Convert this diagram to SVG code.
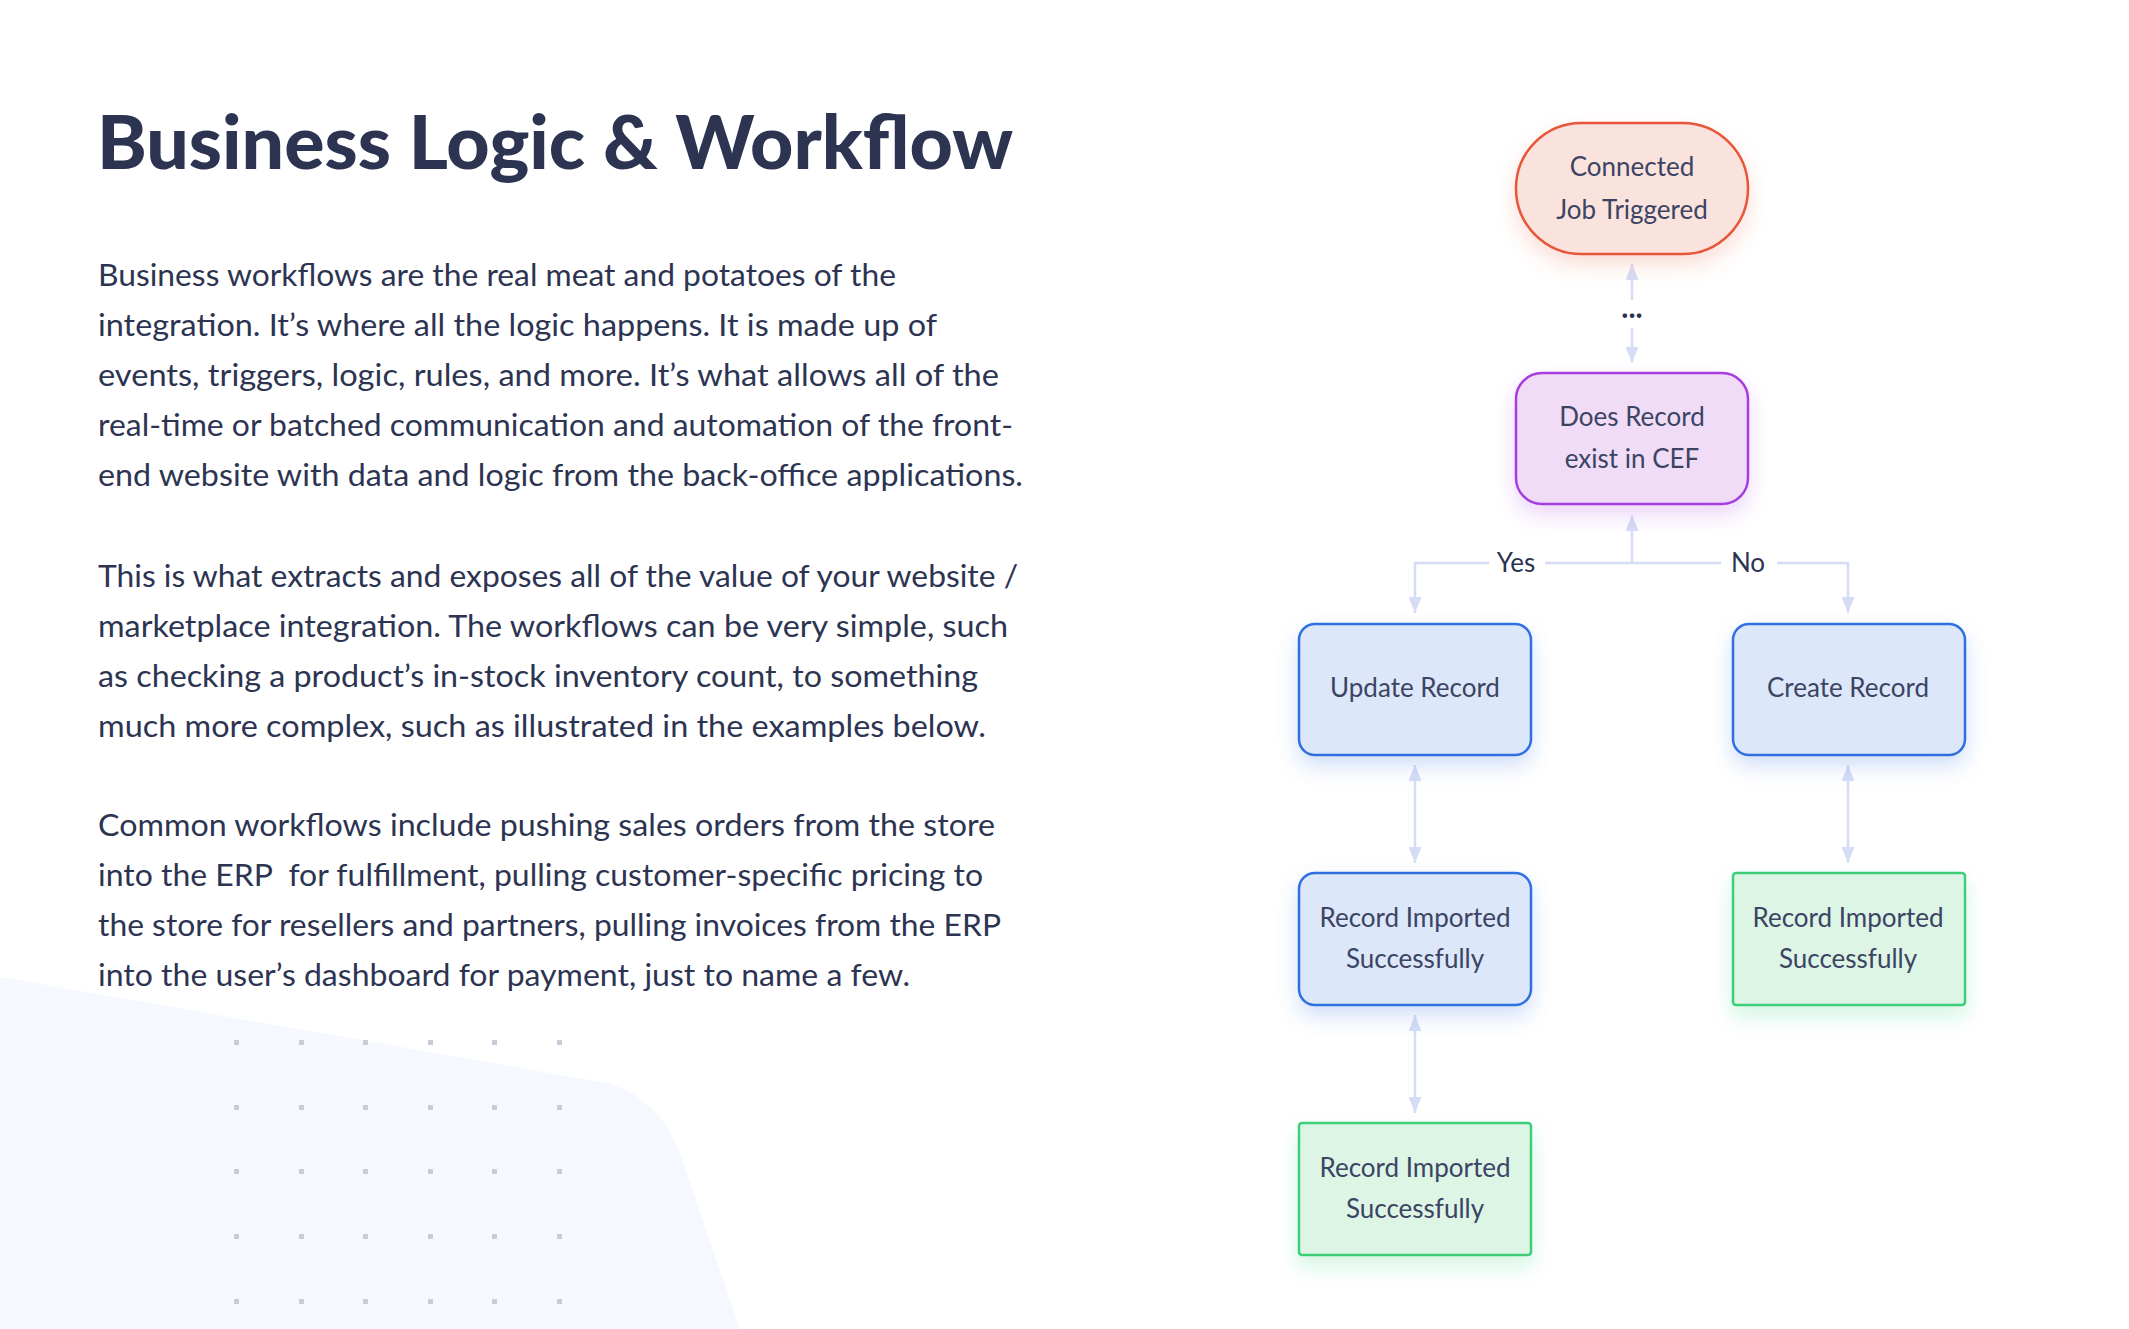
<svg xmlns="http://www.w3.org/2000/svg" width="2129" height="1329" viewBox="0 0 2129 1329">
<defs>
<style>
.title{font-family:Lato,"Liberation Sans",sans-serif;font-weight:900;font-size:75px;fill:#2c3452}
.body{font-family:Lato,"Liberation Sans",sans-serif;font-size:30px;fill:#2c3452}
.nt{font-family:Lato,"Liberation Sans",sans-serif;font-size:26px;fill:#3c4463;text-anchor:middle}
.lbl{font-family:Lato,"Liberation Sans",sans-serif;font-size:26px;fill:#2c3452;text-anchor:middle}
.dots3{font-family:Lato,"Liberation Sans",sans-serif;font-size:30px;font-weight:700;fill:#2c3452;text-anchor:middle}
.conn{stroke:#d5ddf6;stroke-width:2.5;fill:none}
.dot{fill:#c9ccd8}
</style>
<marker id="ah" viewBox="0 0 16 13" refX="16" refY="6.5" markerWidth="16" markerHeight="13" markerUnits="userSpaceOnUse" orient="auto-start-reverse">
<path d="M0,0 L16,6.5 L0,13 Z" fill="#d5ddf6"/>
</marker>
<filter id="shR" x="-30%" y="-30%" width="160%" height="170%"><feDropShadow dx="0" dy="10" stdDeviation="10" flood-color="#e8553a" flood-opacity="0.2"/></filter>
<filter id="shP" x="-30%" y="-30%" width="160%" height="170%"><feDropShadow dx="0" dy="10" stdDeviation="10" flood-color="#a63ce0" flood-opacity="0.2"/></filter>
<filter id="shB" x="-30%" y="-30%" width="160%" height="170%"><feDropShadow dx="0" dy="10" stdDeviation="10" flood-color="#2f6fe0" flood-opacity="0.22"/></filter>
<filter id="shG" x="-30%" y="-30%" width="160%" height="170%"><feDropShadow dx="0" dy="10" stdDeviation="10" flood-color="#2ecc71" flood-opacity="0.2"/></filter>
</defs>
<rect width="2129" height="1329" fill="#ffffff"/>
<path d="M0,977 L607,1083 C645,1094 672,1122 684,1165 L740,1329 L0,1329 Z" fill="#f5f8fe"/>
<g id="dots">
<rect class="dot" x="234" y="1040" width="5" height="5"/><rect class="dot" x="299" y="1040" width="5" height="5"/><rect class="dot" x="363" y="1040" width="5" height="5"/><rect class="dot" x="428" y="1040" width="5" height="5"/><rect class="dot" x="492" y="1040" width="5" height="5"/><rect class="dot" x="557" y="1040" width="5" height="5"/>
<rect class="dot" x="234" y="1105" width="5" height="5"/><rect class="dot" x="299" y="1105" width="5" height="5"/><rect class="dot" x="363" y="1105" width="5" height="5"/><rect class="dot" x="428" y="1105" width="5" height="5"/><rect class="dot" x="492" y="1105" width="5" height="5"/><rect class="dot" x="557" y="1105" width="5" height="5"/>
<rect class="dot" x="234" y="1169" width="5" height="5"/><rect class="dot" x="299" y="1169" width="5" height="5"/><rect class="dot" x="363" y="1169" width="5" height="5"/><rect class="dot" x="428" y="1169" width="5" height="5"/><rect class="dot" x="492" y="1169" width="5" height="5"/><rect class="dot" x="557" y="1169" width="5" height="5"/>
<rect class="dot" x="234" y="1234" width="5" height="5"/><rect class="dot" x="299" y="1234" width="5" height="5"/><rect class="dot" x="363" y="1234" width="5" height="5"/><rect class="dot" x="428" y="1234" width="5" height="5"/><rect class="dot" x="492" y="1234" width="5" height="5"/><rect class="dot" x="557" y="1234" width="5" height="5"/>
<rect class="dot" x="234" y="1299" width="5" height="5"/><rect class="dot" x="299" y="1299" width="5" height="5"/><rect class="dot" x="363" y="1299" width="5" height="5"/><rect class="dot" x="428" y="1299" width="5" height="5"/><rect class="dot" x="492" y="1299" width="5" height="5"/><rect class="dot" x="557" y="1299" width="5" height="5"/>
</g>
<g id="text">
<text class="title" x="97" y="169" textLength="916" lengthAdjust="spacingAndGlyphs">Business Logic &amp; Workflow</text>
<text class="body" x="98" y="286" textLength="798" lengthAdjust="spacingAndGlyphs">Business workflows are the real meat and potatoes of the</text>
<text class="body" x="98" y="336" textLength="839" lengthAdjust="spacingAndGlyphs">integration. It’s where all the logic happens. It is made up of</text>
<text class="body" x="98" y="386" textLength="901" lengthAdjust="spacingAndGlyphs">events, triggers, logic, rules, and more. It’s what allows all of the</text>
<text class="body" x="98" y="436" textLength="915" lengthAdjust="spacingAndGlyphs">real-time or batched communication and automation of the front-</text>
<text class="body" x="98" y="486" textLength="925" lengthAdjust="spacingAndGlyphs">end website with data and logic from the back-office applications.</text>
<text class="body" x="98" y="587" textLength="920" lengthAdjust="spacingAndGlyphs">This is what extracts and exposes all of the value of your website /</text>
<text class="body" x="98" y="637" textLength="910" lengthAdjust="spacingAndGlyphs">marketplace integration. The workflows can be very simple, such</text>
<text class="body" x="98" y="687" textLength="880" lengthAdjust="spacingAndGlyphs">as checking a product’s in-stock inventory count, to something</text>
<text class="body" x="98" y="737" textLength="888" lengthAdjust="spacingAndGlyphs">much more complex, such as illustrated in the examples below.</text>
<text class="body" x="98" y="836" textLength="897" lengthAdjust="spacingAndGlyphs">Common workflows include pushing sales orders from the store</text>
<text class="body" x="98" y="886" textLength="885" lengthAdjust="spacingAndGlyphs">into the ERP&#160; for fulfillment, pulling customer-specific pricing to</text>
<text class="body" x="98" y="936" textLength="903" lengthAdjust="spacingAndGlyphs">the store for resellers and partners, pulling invoices from the ERP</text>
<text class="body" x="98" y="986" textLength="812" lengthAdjust="spacingAndGlyphs">into the user’s dashboard for payment, just to name a few.</text>
</g>
<g id="connectors">
<line class="conn" x1="1632" y1="300" x2="1632" y2="264" marker-end="url(#ah)"/>
<line class="conn" x1="1632" y1="328" x2="1632" y2="363" marker-end="url(#ah)"/>
<text class="dots3" x="1632" y="318">...</text>
<line class="conn" x1="1632" y1="563" x2="1632" y2="515" marker-end="url(#ah)"/>
<polyline class="conn" points="1489,563 1415,563 1415,613" marker-end="url(#ah)"/>
<line class="conn" x1="1545" y1="563" x2="1632" y2="563"/>
<line class="conn" x1="1632" y1="563" x2="1721" y2="563"/>
<polyline class="conn" points="1777,563 1848,563 1848,613" marker-end="url(#ah)"/>
<text class="lbl" x="1516" y="572">Yes</text>
<text class="lbl" x="1748" y="572">No</text>
<line class="conn" x1="1415" y1="765" x2="1415" y2="863" marker-start="url(#ah)" marker-end="url(#ah)"/>
<line class="conn" x1="1848" y1="765" x2="1848" y2="863" marker-start="url(#ah)" marker-end="url(#ah)"/>
<line class="conn" x1="1415" y1="1015" x2="1415" y2="1113" marker-start="url(#ah)" marker-end="url(#ah)"/>
</g>
<g id="node-connected">
<rect x="1516" y="123" width="232" height="131" rx="65.5" fill="#fae3dd" stroke="#e8553a" stroke-width="2.5" filter="url(#shR)"/>
<text class="nt" x="1632" y="176">Connected</text>
<text class="nt" x="1632" y="219">Job Triggered</text>
</g>
<g id="node-does-record">
<rect x="1516" y="373" width="232" height="131" rx="26" fill="#f0dcf6" stroke="#a63ce0" stroke-width="2.5" filter="url(#shP)"/>
<text class="nt" x="1632" y="426">Does Record</text>
<text class="nt" x="1632" y="468">exist in CEF</text>
</g>
<g id="node-update">
<rect x="1299" y="624" width="232" height="131" rx="16" fill="#dce7fa" stroke="#2f6fe0" stroke-width="2.5" filter="url(#shB)"/>
<text class="nt" x="1415" y="697">Update Record</text>
</g>
<g id="node-create">
<rect x="1733" y="624" width="232" height="131" rx="16" fill="#dce7fa" stroke="#2f6fe0" stroke-width="2.5" filter="url(#shB)"/>
<text class="nt" x="1848" y="697">Create Record</text>
</g>
<g id="node-imported-blue">
<rect x="1299" y="873" width="232" height="132" rx="16" fill="#dce7fa" stroke="#2f6fe0" stroke-width="2.5" filter="url(#shB)"/>
<text class="nt" x="1415" y="927">Record Imported</text>
<text class="nt" x="1415" y="968">Successfully</text>
</g>
<g id="node-imported-right">
<rect x="1733" y="873" width="232" height="132" rx="3" fill="#dcf5e5" stroke="#3dce7a" stroke-width="2.5" filter="url(#shG)"/>
<text class="nt" x="1848" y="927">Record Imported</text>
<text class="nt" x="1848" y="968">Successfully</text>
</g>
<g id="node-imported-bottom">
<rect x="1299" y="1123" width="232" height="132" rx="3" fill="#dcf5e5" stroke="#3dce7a" stroke-width="2.5" filter="url(#shG)"/>
<text class="nt" x="1415" y="1177">Record Imported</text>
<text class="nt" x="1415" y="1218">Successfully</text>
</g>
</svg>
